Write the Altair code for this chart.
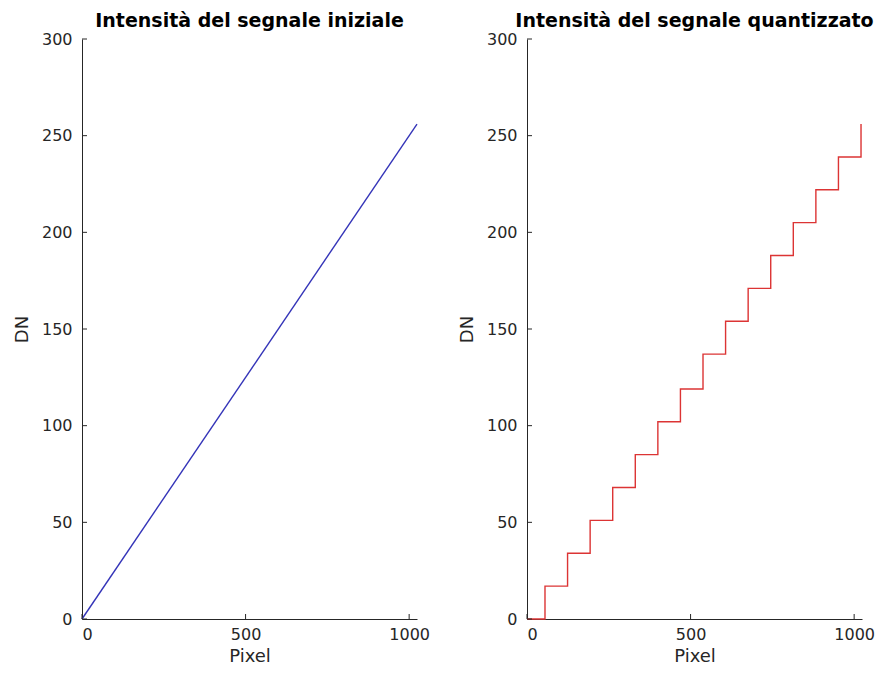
import altair as alt
import pandas as pd

# Data
init_x = [0, 1024]
init_y = [0, 256]

quant_x = [0, 55, 124, 193, 262, 331, 400, 469, 538, 607, 676, 745, 814, 883, 952, 1021]
quant_y = [0, 17, 34, 51, 68, 85, 102, 119, 137, 154, 171, 188, 205, 222, 239, 256]

x_ticks = [0, 500, 1000]
y_ticks = [0, 50, 100, 150, 200, 250, 300]

titles = ["Intensità del segnale iniziale", "Intensità del segnale quantizzato"]

FONT = "DejaVu Sans"
AX = "#262626"
W, H = 335, 580


def xenc():
    return alt.X("x:Q", scale=alt.Scale(domain=[0, 1024], nice=False, zero=False),
                 axis=alt.Axis(values=x_ticks, title="Pixel", labelPadding=7, titlePadding=5,
                               format="d", grid=False, ticks=False))


def yenc():
    return alt.Y("y:Q", scale=alt.Scale(domain=[0, 300], nice=False),
                 axis=alt.Axis(values=y_ticks, title="DN", labelPadding=10, titlePadding=10,
                               format="d", grid=False, ticks=False))


def panel(xs, ys, color, title, interp):
    df = pd.DataFrame({"x": xs, "y": ys})
    line = alt.Chart(df).mark_line(color=color, strokeWidth=1.4, interpolate=interp).encode(
        x=xenc(), y=yenc())
    xt = alt.Chart(pd.DataFrame({"x": x_ticks})).mark_rule(color=AX, strokeWidth=1).encode(
        x=xenc(), y=alt.value(H), y2=alt.value(H - 5))
    yt = alt.Chart(pd.DataFrame({"y": y_ticks})).mark_rule(color=AX, strokeWidth=1).encode(
        y=yenc(), x=alt.value(0), x2=alt.value(5))
    return alt.layer(line, xt, yt).properties(
        width=W, height=H,
        title=alt.TitleParams(title, fontSize=19, fontWeight="bold", font=FONT,
                              color="#000000", anchor="middle", offset=0))


left = panel(init_x, init_y, "#3434b8", titles[0], "linear")
right = panel(quant_x, quant_y, "#dc3434", titles[1], "step-after")

chart = alt.hconcat(left, right, spacing=110, bounds="flush").properties(
    padding={"left": 5, "top": 4, "right": 0, "bottom": 0},
    background="white"
).configure_view(stroke=None).configure_axis(
    grid=False, ticks=False, domainColor=AX, domainWidth=1,
    labelColor=AX, labelFont=FONT, labelFontSize=16,
    titleColor=AX, titleFont=FONT, titleFontSize=18, titleFontWeight="normal"
)

chart.save("out.html", embed_options={"renderer": "svg", "actions": False})
